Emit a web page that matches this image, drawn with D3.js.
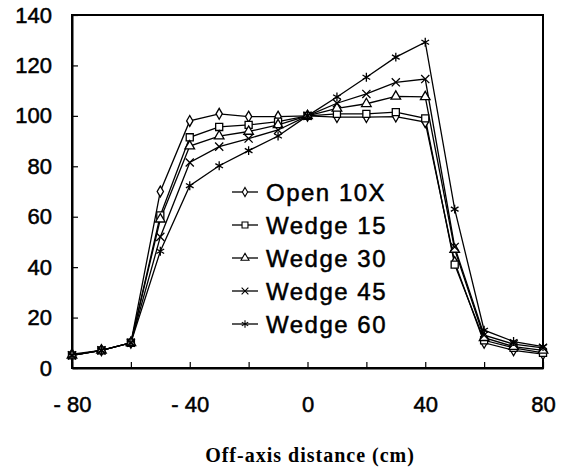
<!DOCTYPE html>
<html>
<head>
<meta charset="utf-8">
<script src="https://cdn.jsdelivr.net/npm/d3@7"></script>
<style>
  body { margin: 0; background: #fff; }
  svg { display: block; }
  .axis text { font-family: "Liberation Sans", Arial, sans-serif; font-size: 22px; fill: #000; stroke: #000; stroke-width: 0.5px; }
  .legend-text { font-family: "Liberation Sans", Arial, sans-serif; font-size: 24px; letter-spacing: 1.5px; fill: #000; stroke: #000; stroke-width: 0.5px; }
  .axis-title { font-family: "Liberation Serif", "Times New Roman", serif; font-size: 20px; font-weight: bold; letter-spacing: 1px; }
</style>
</head>
<body>
<div id="chart"></div>
<script>
// off-axis positions (cm)
const offAxis = [-80, -70, -60, -50, -40, -30, -20, -10, 0, 10, 20, 30, 40, 50, 60, 70, 80];

// relative dose (%) per field
const open10X = [5.5, 7, 10, 70, 98, 100.8, 99.7, 99.7, 100, 99.5, 99.5, 99.7, 97.5, 42, 10, 7, 5.5];
const wedge15 = [5, 7, 10, 60.5, 91.5, 95.6, 96.4, 97.7, 100, 100.8, 100.8, 101.5, 99, 41, 11, 8, 6];
const wedge30 = [5, 7, 10, 59, 88, 92, 93.8, 96.4, 100, 103, 104.8, 107.7, 107.5, 47, 12, 8.5, 7];
const wedge45 = [5, 7, 10, 52, 81.5, 87.8, 91, 94.4, 100, 105, 108.7, 113.3, 114.6, 48, 13, 9.5, 8];
const wedge60 = [5, 7, 10, 46.3, 72.3, 80.2, 86.2, 92, 100, 107.5, 115.3, 123.3, 129.2, 63, 15, 10.5, 8.5];

const seriesNames = ['Open 10X', 'Wedge 15', 'Wedge 30', 'Wedge 45', 'Wedge 60'];
const seriesValues = [open10X, wedge15, wedge30, wedge45, wedge60];

const xTicks = [-80, -60, -40, -20, 0, 20, 40, 60, 80];
const xLabelled = [-80, -40, 0, 40, 80];
const yTicks = [0, 20, 40, 60, 80, 100, 120, 140];

const width = 562, height = 470;
const margin = { top: 15, right: 19, bottom: 102, left: 72 };

const svg = d3.select('#chart').append('svg')
    .attr('width', width)
    .attr('height', height);

const xScale = d3.scaleLinear().domain([-80, 80]).range([margin.left, width - margin.right]);
const yScale = d3.scaleLinear().domain([0, 140]).range([height - margin.bottom, margin.top]);

// symbols for each series
const symbolTypes = [d3.symbolDiamond, d3.symbolSquare, d3.symbolTriangle, d3.symbolTimes, d3.symbolAsterisk];
const symbolSizes = [34, 50, 40, 45, 55];
const filled = [true, true, true, false, false];

// frame
svg.append('rect')
    .attr('x', xScale(-80))
    .attr('y', yScale(140))
    .attr('width', xScale(80) - xScale(-80))
    .attr('height', yScale(0) - yScale(140))
    .attr('fill', 'none')
    .attr('stroke', '#000')
    .attr('stroke-width', 2);

// axes
let xAxis = d3.axisBottom(xScale)
    .tickValues(xTicks)
    .tickSizeInner(-6)
    .tickSizeOuter(0)
    .tickPadding(28)
    .tickFormat(d => xLabelled.includes(d) ? (d < 0 ? '- ' + Math.abs(d) : d) : '');
let xg = svg.append('g')
    .classed('axis', true)
    .attr('transform', 'translate(0,' + yScale(0) + ')')
    .call(xAxis);

let yAxis = d3.axisLeft(yScale)
    .tickValues(yTicks)
    .tickSizeInner(-6)
    .tickSizeOuter(0)
    .tickPadding(20);
let yg = svg.append('g')
    .classed('axis', true)
    .attr('transform', 'translate(' + xScale(-80) + ',0)')
    .call(yAxis);

[xg, yg].forEach(g => {
    g.select('.domain').attr('stroke', '#000').attr('stroke-width', 2);
    g.selectAll('.tick line').attr('stroke', '#000').attr('stroke-width', 1.2);
});

// lines
let lineFn = d3.line()
    .x((d, i) => xScale(offAxis[i]))
    .y(d => yScale(d));

let plotGroup = svg.append('g').attr('id', 'plot-group');

seriesValues.forEach((vals, k) => {
    plotGroup.append('path')
        .attr('d', lineFn(vals))
        .attr('fill', 'none')
        .attr('stroke', '#000')
        .attr('stroke-width', 1.3);
});

seriesValues.forEach((vals, k) => {
    let sym = d3.symbol().type(symbolTypes[k]).size(symbolSizes[k]);
    plotGroup.selectAll('.mark-' + k)
        .data(vals)
        .enter().append('path')
        .attr('class', 'mark-' + k)
        .attr('d', sym)
        .attr('transform', (d, i) => `translate(${xScale(offAxis[i])},${yScale(d)})`)
        .attr('fill', filled[k] ? '#fff' : 'none')
        .attr('stroke', '#000')
        .attr('stroke-width', 1.3);
});

// legend
let legendGroup = svg.append('g').attr('id', 'legend-group')
    .attr('transform', 'translate(232, 192)');
let legendRows = legendGroup.selectAll('g')
    .data(seriesNames)
    .enter().append('g')
    .attr('transform', (d, i) => `translate(0, ${i * 33})`);
legendRows.append('line')
    .attr('x1', 0).attr('x2', 26)
    .attr('y1', 0).attr('y2', 0)
    .attr('stroke', '#000')
    .attr('stroke-width', 1.3);
legendRows.append('path')
    .attr('d', (d, i) => d3.symbol().type(symbolTypes[i]).size(symbolSizes[i] * 0.7)())
    .attr('transform', 'translate(13,0)')
    .attr('fill', (d, i) => filled[i] ? '#fff' : 'none')
    .attr('stroke', '#000')
    .attr('stroke-width', 1.1);
legendRows.append('text')
    .attr('x', 34)
    .attr('dy', '0.36em')
    .classed('legend-text', true)
    .text(d => d);

// axis title
svg.append('text')
    .classed('axis-title', true)
    .attr('x', 310)
    .attr('y', 462)
    .attr('text-anchor', 'middle')
    .text('Off-axis distance (cm)');
</script>
</body>
</html>
